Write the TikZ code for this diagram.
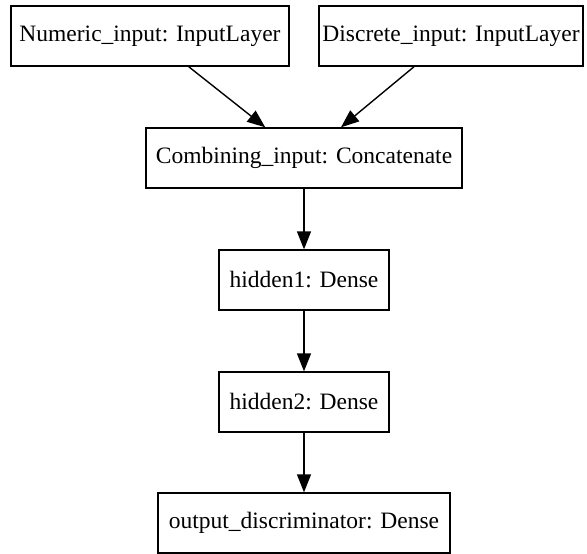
\documentclass[tikz,border=0pt]{standalone}
\usepackage{fontspec}
\setmainfont{Liberation Serif}
\usetikzlibrary{arrows.meta}
\begin{document}
\begin{tikzpicture}[x=1pt,y=1pt,
  layer/.style={draw=black,line width=1.4pt,minimum height=60pt,inner xsep=0pt,
    font=\fontsize{23.5}{27}\selectfont,text=black},
  conn/.style={line width=1.4pt,-{Triangle[length=18pt,width=14pt]}}]
\useasboundingbox (0,0) rectangle (587,-554);
\node[layer,minimum width=278pt] (num) at (150,-36) {Numeric\_input: InputLayer};
\node[layer,minimum width=264pt] (dis) at (451,-36) {Discrete\_input: InputLayer};
\node[layer,minimum width=316pt] (comb) at (304,-158) {Combining\_input: Concatenate};
\node[layer,minimum width=170pt] (h1) at (304,-280) {hidden1: Dense};
\node[layer,minimum width=170pt] (h2) at (304,-402) {hidden2: Dense};
\node[layer,minimum width=292pt] (out) at (304,-523) {output\_discriminator: Dense};
\draw[conn] (num) -- (comb);
\draw[conn] (dis) -- (comb);
\draw[conn] (comb) -- (h1);
\draw[conn] (h1) -- (h2);
\draw[conn] (h2) -- (out);
\end{tikzpicture}
\end{document}
